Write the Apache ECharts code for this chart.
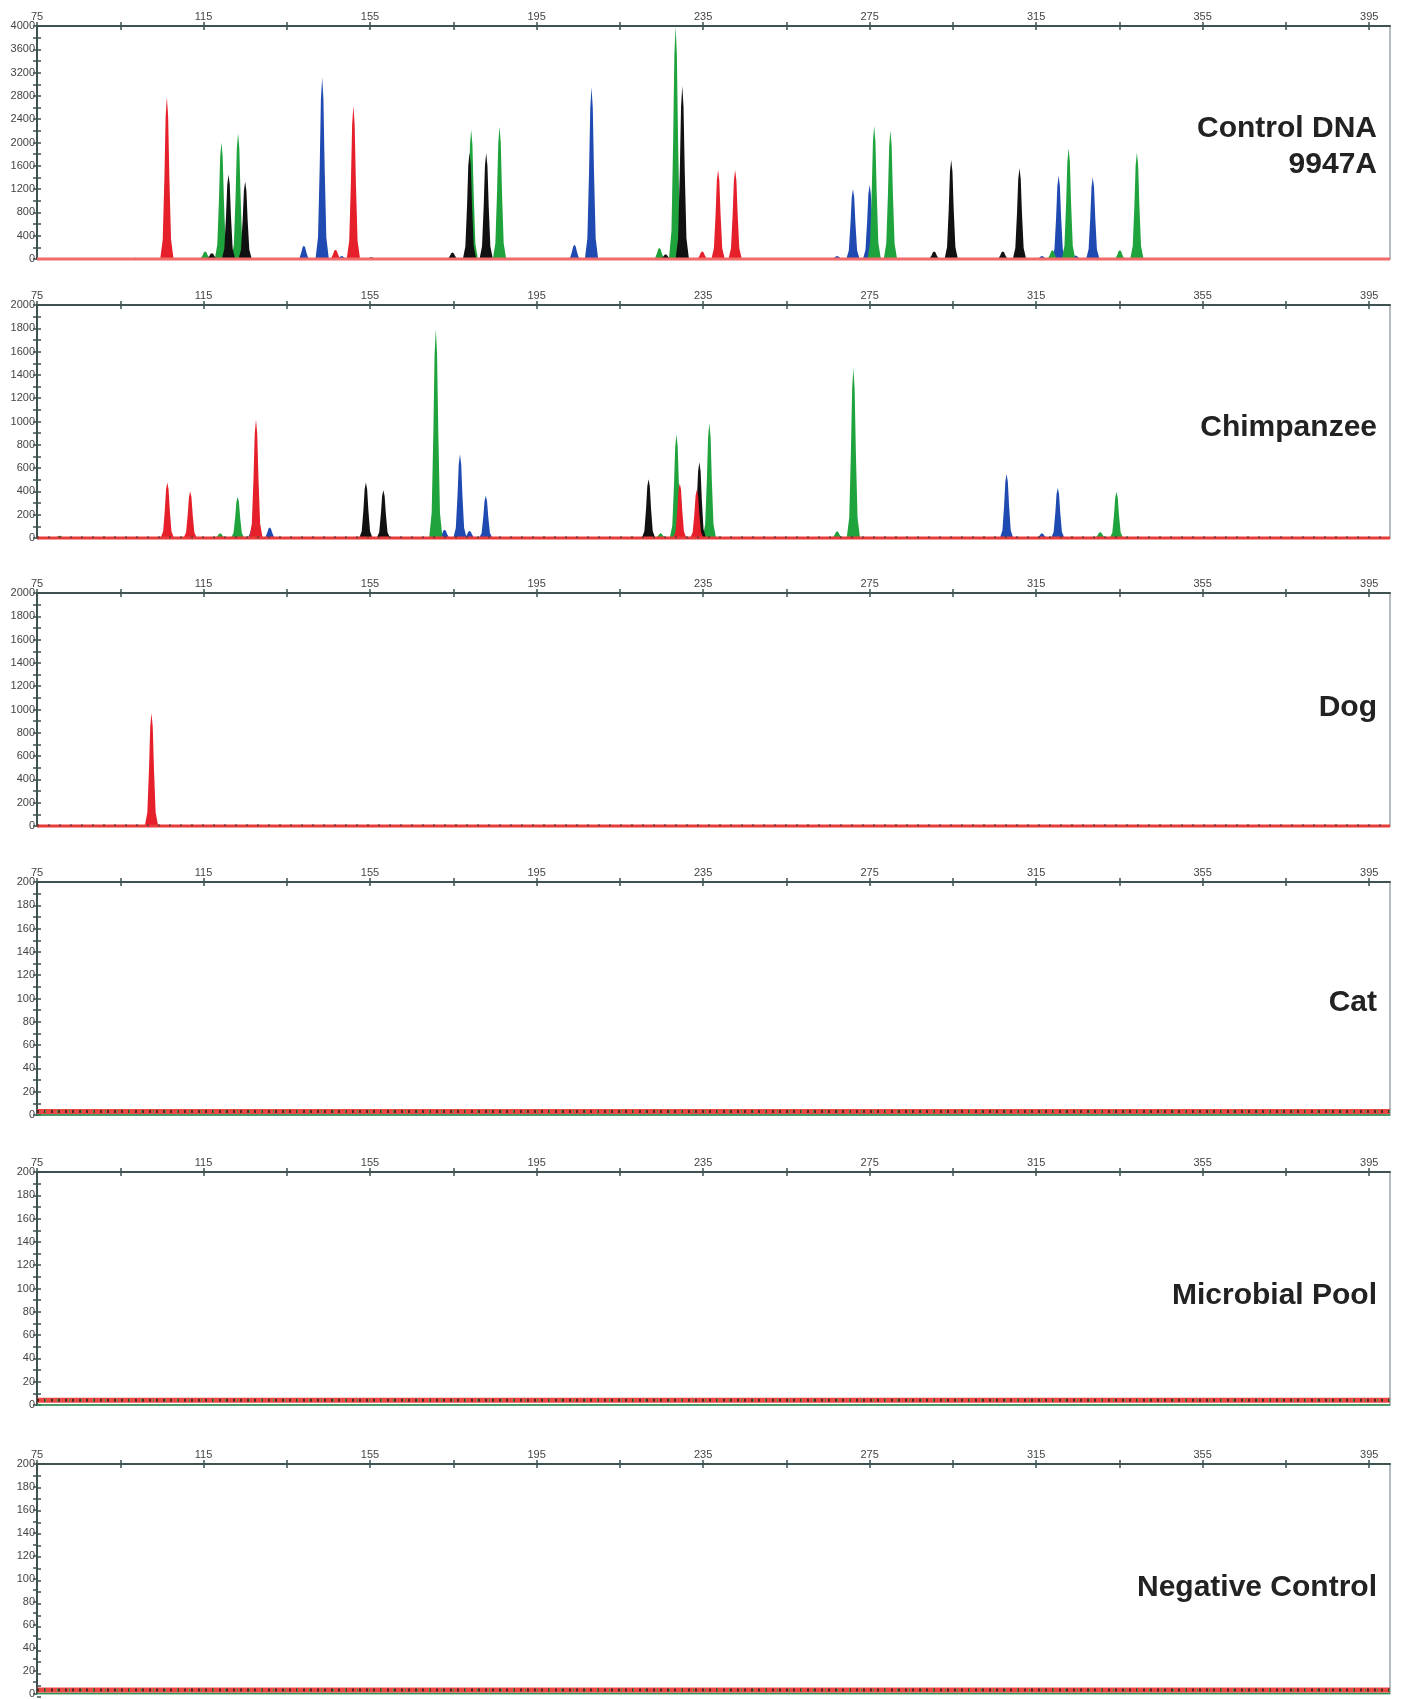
<!DOCTYPE html>
<html>
<head>
<meta charset="UTF-8">
<title>Electropherograms</title>
<script src="https://cdn.jsdelivr.net/npm/echarts@6/dist/echarts.min.js"></script>
<style type="text/css">
body{margin:0;padding:0;background:#fff;}
#main{width:1402px;height:1699px;}
</style>
</head>
<body>
<div id="main"></div>
<script type="text/javascript">
// size axis (bp)
var xTicks = [75, 95, 115, 135, 155, 175, 195, 215, 235, 255, 275, 295, 315, 335, 355, 375, 395];
var xLabels = [75, 115, 155, 195, 235, 275, 315, 355, 395];

// rfu axis labels / ticks
var yLabels4000 = [0, 400, 800, 1200, 1600, 2000, 2400, 2800, 3200, 3600, 4000];
var yTicks4000 = [0, 200, 400, 600, 800, 1000, 1200, 1400, 1600, 1800, 2000, 2200, 2400, 2600, 2800, 3000, 3200, 3400, 3600, 3800, 4000];
var yLabels2000 = [0, 200, 400, 600, 800, 1000, 1200, 1400, 1600, 1800, 2000];
var yTicks2000 = [0, 100, 200, 300, 400, 500, 600, 700, 800, 900, 1000, 1100, 1200, 1300, 1400, 1500, 1600, 1700, 1800, 1900, 2000];
var yLabels200 = [0, 20, 40, 60, 80, 100, 120, 140, 160, 180, 200];
var yTicks200 = [0, 10, 20, 30, 40, 50, 60, 70, 80, 90, 100, 110, 120, 130, 140, 150, 160, 170, 180, 190, 200];

var panelNames = ['Control DNA\n9947A', 'Chimpanzee', 'Dog', 'Cat', 'Microbial Pool', 'Negative Control'];
var panelMax = [4000, 2000, 2000, 200, 200, 200];
var panelLabels = [yLabels4000, yLabels2000, yLabels2000, yLabels200, yLabels200, yLabels200];
var panelTicks = [yTicks4000, yTicks2000, yTicks2000, yTicks200, yTicks200, yTicks200];
// baseline / noise level of each sample
var noiseLevel = [0, 6, 6, 3, 4, 3];

// peaks: [size bp, height rfu]
var controlRed = [[106.2, 2780], [146.7, 160], [151.0, 2630], [234.8, 130], [238.6, 1530], [242.7, 1530]];
var controlGreen = [[115.4, 130], [119.3, 2000], [123.3, 2160], [179.3, 2220], [186.1, 2270], [224.5, 190], [228.4, 3990], [276.1, 2285], [280.0, 2205], [318.9, 150], [322.8, 1900], [335.1, 150], [339.2, 1830]];
var controlBlue = [[139.1, 229], [143.5, 3120], [148.2, 50], [204.1, 245], [208.2, 2950], [267.2, 50], [271.0, 1200], [275.0, 1270], [316.4, 50], [320.4, 1430], [324.5, 60], [328.6, 1405]];
var controlBlack = [[98.5, 20], [117.0, 100], [121.0, 1450], [125.0, 1330], [155.3, 30], [174.8, 110], [178.9, 1830], [182.9, 1820], [226.0, 80], [230.0, 2970], [290.5, 130], [294.6, 1700], [307.0, 130], [311.0, 1560]];

var chimpRed = [[106.3, 476], [111.8, 400], [127.6, 1017], [229.4, 471], [233.5, 414]];
var chimpGreen = [[80.4, 20], [119.0, 40], [123.2, 353], [170.8, 1792], [224.8, 40], [228.6, 891], [236.5, 986], [267.2, 57], [271.1, 1457], [330.4, 50], [334.3, 394]];
var chimpBlue = [[126.8, 90], [130.9, 91], [172.9, 70], [176.6, 718], [178.9, 60], [182.8, 362], [307.9, 549], [316.4, 40], [320.2, 429]];
var chimpBlack = [[154.0, 476], [158.2, 410], [221.9, 504], [234.1, 650]];

var dogRed = [[102.5, 970]];

var dyeColors = { red: '#e5202a', green: '#1fa33c', blue: '#1f4ab2', black: '#111111' };
var panelPeaks = [
    { red: controlRed, green: controlGreen, blue: controlBlue, black: controlBlack },
    { red: chimpRed, green: chimpGreen, blue: chimpBlue, black: chimpBlack },
    { red: dogRed, green: [], blue: [], black: [] },
    { red: [], green: [], blue: [], black: [] },
    { red: [], green: [], blue: [], black: [] },
    { red: [], green: [], blue: [], black: [] }
];

// peak outline, relative to (size, height) -- style only
var peakShape = [[-1.6, 0], [-1.0, 0.12], [-0.6, 0.5], [-0.3, 0.88], [0, 1], [0.3, 0.88], [0.6, 0.5], [1.0, 0.12], [1.6, 0]];

var gridTops = [26, 305, 593, 882, 1172, 1464];
var gridH = 233, gridLeft = 37, gridRight = 12;
var labelY = [[131, 167], [430], [710], [1005], [1298], [1590]];
var axisColor = '#3e5252';

function renderPeak(params, api) {
    var bp = api.value(0), h = api.value(1);
    var pts = peakShape.map(function (p) {
        return api.coord([bp + p[0], h * p[1]]);
    });
    return {
        type: 'polygon',
        shape: { points: pts },
        style: { fill: api.visual('color') }
    };
}

function plainNum(v) { return String(v); }

var myChart = echarts.init(document.getElementById('main'));
var grids = [], xAxes = [], yAxes = [], series = [], graphics = [];

for (var i = 0; i < 6; i++) {
    // grid 2i: data + outer ticks, grid 2i+1: same box, inner ticks only
    grids.push({
        left: gridLeft, right: gridRight, top: gridTops[i], height: gridH,
        show: true, borderColor: '#9aa8ae', borderWidth: 1.5, backgroundColor: '#fff'
    });
    grids.push({ left: gridLeft, right: gridRight, top: gridTops[i], height: gridH, show: false });

    xAxes.push({
        gridIndex: 2 * i, type: 'value', position: 'top', min: 75, max: 400,
        axisLine: { show: true, onZero: false, lineStyle: { color: axisColor, width: 2 } },
        axisTick: { show: true, length: 4, customValues: xTicks, lineStyle: { color: axisColor, width: 1.5 } },
        axisLabel: { show: true, customValues: xLabels, formatter: plainNum, fontSize: 11, color: '#444', margin: 4, fontFamily: 'Liberation Sans' },
        splitLine: { show: false }
    });
    xAxes.push({
        gridIndex: 2 * i + 1, type: 'value', position: 'top', min: 75, max: 400,
        axisLine: { show: false, onZero: false },
        axisTick: { show: true, inside: true, length: 4, customValues: xTicks, lineStyle: { color: axisColor, width: 1.5 } },
        axisLabel: { show: false },
        splitLine: { show: false }
    });
    yAxes.push({
        gridIndex: 2 * i, type: 'value', position: 'left', min: 0, max: panelMax[i],
        axisLine: { show: true, onZero: false, lineStyle: { color: axisColor, width: 2 } },
        axisTick: { show: true, length: 4, customValues: panelTicks[i], lineStyle: { color: axisColor, width: 1.5 } },
        axisLabel: { show: true, customValues: panelLabels[i], formatter: plainNum, fontSize: 11, color: '#444', margin: 2, fontFamily: 'Liberation Sans' },
        splitLine: { show: false }
    });
    yAxes.push({
        gridIndex: 2 * i + 1, type: 'value', position: 'left', min: 0, max: panelMax[i],
        axisLine: { show: false, onZero: false },
        axisTick: { show: true, inside: true, length: 4, customValues: panelTicks[i], lineStyle: { color: axisColor, width: 1.5 } },
        axisLabel: { show: false },
        splitLine: { show: false }
    });

    var ax = 2 * i;
    var lvl = noiseLevel[i];
    var base = [[75, lvl], [400, lvl]];
    if (i >= 3) {
        // noisy baseline band
        series.push({ type: 'line', xAxisIndex: ax, yAxisIndex: ax, data: [[75, 0], [400, 0]], symbol: 'none', clip: false, silent: true,
            lineStyle: { color: '#2a8f4a', width: 1.5 } });
        series.push({ type: 'line', xAxisIndex: ax, yAxisIndex: ax, data: base, symbol: 'none', clip: false, silent: true,
            lineStyle: { color: '#e8342f', width: 5, opacity: 0.9 } });
        series.push({ type: 'line', xAxisIndex: ax, yAxisIndex: ax, data: base, symbol: 'none', clip: false, silent: true,
            lineStyle: { color: '#222', width: 3, type: [2, 5], opacity: 0.75 } });
        series.push({ type: 'line', xAxisIndex: ax, yAxisIndex: ax, data: base, symbol: 'none', clip: false, silent: true,
            lineStyle: { color: '#2fa84a', width: 2.5, type: [1, 11], dashOffset: 4 } });
    }

    ['blue', 'green', 'black', 'red'].forEach(function (dye) {
        var pk = panelPeaks[i][dye];
        if (!pk.length) return;
        series.push({
            type: 'custom', name: dye, xAxisIndex: ax, yAxisIndex: ax,
            renderItem: renderPeak, encode: { x: 0, y: 1 },
            itemStyle: { color: dyeColors[dye] },
            data: pk, silent: true
        });
    });

    if (i < 3) {
        series.push({ type: 'line', xAxisIndex: ax, yAxisIndex: ax, data: [[75, 0], [400, 0]], symbol: 'none', clip: false, silent: true,
            lineStyle: { color: i === 0 ? '#f26a6a' : '#ea3b3b', width: 3 } });
        if (i > 0) {
            series.push({ type: 'line', xAxisIndex: ax, yAxisIndex: ax, data: base, symbol: 'none', clip: false, silent: true,
                lineStyle: { color: '#333', width: 2, type: [2, 9], opacity: 0.6 } });
        }
    }

    var names = panelNames[i].split('\n');
    for (var k = 0; k < names.length; k++) {
        graphics.push({
            type: 'text', right: 1402 - 1377, top: labelY[i][k] - 17,
            style: { text: names[k], font: 'bold 30px "Liberation Sans", Arial, sans-serif', fill: '#222', textAlign: 'right' },
            z: 100
        });
    }
}

myChart.setOption({
    animation: false,
    grid: grids,
    xAxis: xAxes,
    yAxis: yAxes,
    series: series,
    graphic: graphics
});
</script>
</body>
</html>
